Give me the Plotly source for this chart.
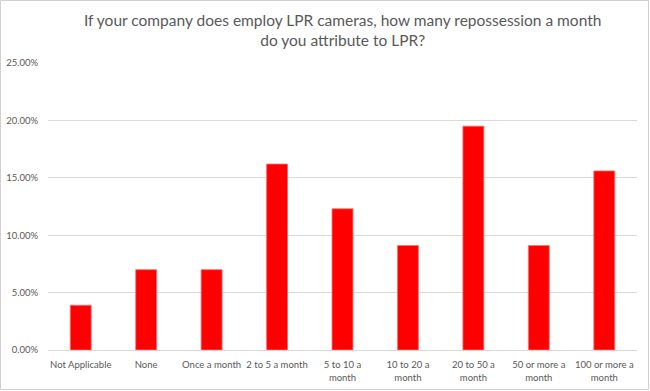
import plotly.graph_objects as go

categories = ["Not Applicable", "None", "Once a month", "2 to 5 a month",
              "5 to 10 a<br>month", "10 to 20 a<br>month", "20 to 50 a<br>month",
              "50 or more a<br>month", "100 or more a<br>month"]
values = [3.9, 7.0, 7.0, 16.2, 12.3, 9.1, 19.5, 9.1, 15.6]
y_ticks = [0, 5, 10, 15, 20, 25]
y_tick_labels = ["0.00%", "5.00%", "10.00%", "15.00%", "20.00%", "25.00%"]

title_text = "If your company does employ LPR cameras, how many repossession a month<br>do you attribute to LPR?"

W, H = 650, 391
ml, mr, mt, mb = 48, 13, 63, 41
pw = W - ml - mr
ph = H - mt - mb

fig = go.Figure(go.Bar(
    x=categories, y=values,
    marker=dict(color="#ff0000", line=dict(color="#ff7070", width=0.8)),
))

fig.update_layout(
    width=W, height=H,
    margin=dict(l=ml, r=mr, t=mt, b=mb, autoexpand=False),
    paper_bgcolor="white", plot_bgcolor="white",
    bargap=0.68,
    font=dict(family="Lato, Liberation Sans, sans-serif", color="#595959"),
    showlegend=False,
)
fig.add_annotation(text=title_text, xref="paper", yref="paper",
                   x=0.5, xanchor="center",
                   y=1 + (mt - 30) / ph, yanchor="middle",
                   showarrow=False, font=dict(size=15.5, color="#595959"))
fig.update_yaxes(range=[0, 25], tickvals=y_ticks, ticktext=y_tick_labels,
                 automargin=False,
                 showgrid=True, gridcolor="#d9d9d9", gridwidth=1,
                 zeroline=False, showline=False, tickfont=dict(size=9.5, color="#595959"),
                 ticks="outside", ticklen=7, tickcolor="rgba(0,0,0,0)")
fig.update_xaxes(showline=True, linecolor="#d9d9d9", linewidth=1, automargin=False,
                 tickfont=dict(size=9.5, color="#595959"), tickangle=0,
                 ticks="outside", ticklen=6, tickcolor="rgba(0,0,0,0)")

# outer chart border
fig.add_shape(type="rect", xref="paper", yref="paper",
              x0=-(ml - 0.5) / pw, x1=1 + (mr - 1.5) / pw,
              y0=-(mb - 1.5) / ph, y1=1 + (mt - 0.5) / ph,
              line=dict(color="#d0d0d0", width=1), fillcolor="rgba(0,0,0,0)", layer="above")

fig.write_html("out.html", config={"displayModeBar": False},
               post_script="document.body.style.margin='0';document.body.style.overflow='hidden';")
